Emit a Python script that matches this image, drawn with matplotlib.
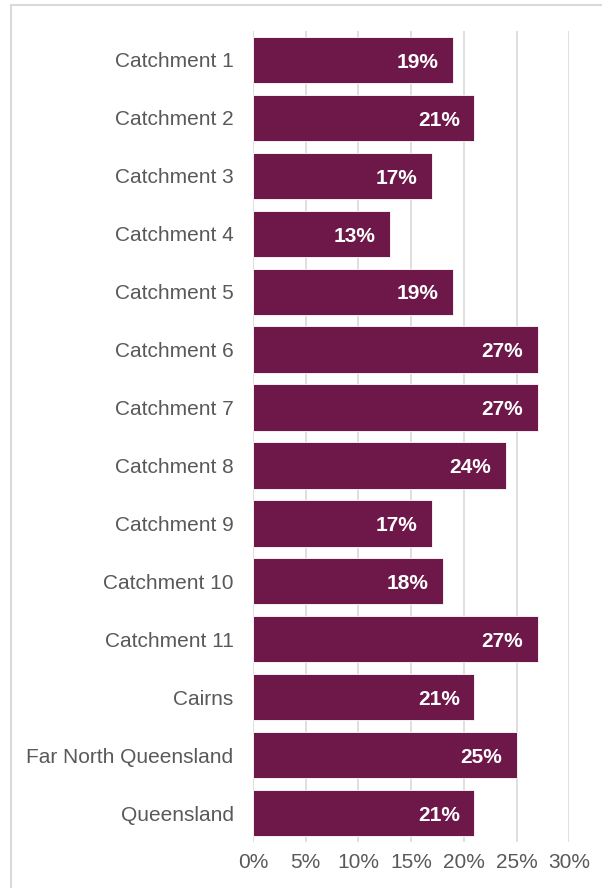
import matplotlib.pyplot as plt
from matplotlib.patches import Rectangle

plt.rcParams['font.family'] = ['Liberation Sans', 'DejaVu Sans']

areas = [
    'Catchment 1', 'Catchment 2', 'Catchment 3', 'Catchment 4', 'Catchment 5',
    'Catchment 6', 'Catchment 7', 'Catchment 8', 'Catchment 9', 'Catchment 10',
    'Catchment 11', 'Cairns', 'Far North Queensland', 'Queensland',
]
shares = [19, 21, 17, 13, 19, 27, 27, 24, 17, 18, 27, 21, 25, 21]
x_ticks = [0, 5, 10, 15, 20, 25, 30]

bar_color = '#6D1849'
text_grey = '#595959'
grid_grey = '#D9D9D9'

fig = plt.figure(figsize=(6.02, 8.88), dpi=100)
ax = fig.add_axes([0.4203, 0.0518, 0.5254, 0.9133])

# light frame around the whole chart area
fig.patches.append(Rectangle((10.5 / 602, -0.1), 1.2, (888 - 5.5) / 888 + 0.1,
                             transform=fig.transFigure, fill=False,
                             edgecolor=grid_grey, linewidth=1.5, zorder=0))

pos = list(range(len(areas)))
bars = ax.barh(pos, shares, height=0.8, color=bar_color,
               edgecolor='white', linewidth=0.6, zorder=3)

for rect, v in zip(bars, shares):
    ax.text(v - 1.4, rect.get_y() + rect.get_height() / 2 + 0.04, f'{v}%',
            ha='right', va='center', color='white', fontsize=15,
            fontweight='bold', zorder=4)

ax.set_xlim(0, 30)
ax.set_ylim(len(areas) - 0.5, -0.5)
ax.set_xticks(x_ticks)
ax.set_xticklabels([f'{t}%' for t in x_ticks])
ax.set_yticks(pos)
ax.set_yticklabels(areas)

ax.xaxis.grid(True, color=grid_grey, linewidth=1.2, zorder=0)
ax.set_axisbelow(True)
for side in ['top', 'right', 'bottom', 'left']:
    ax.spines[side].set_visible(False)

ax.tick_params(axis='y', length=0, pad=14, labelsize=15, labelcolor=text_grey)
ax.tick_params(axis='x', length=0, pad=8, labelsize=15, labelcolor=text_grey)

plt.savefig('out.png', dpi=100)
